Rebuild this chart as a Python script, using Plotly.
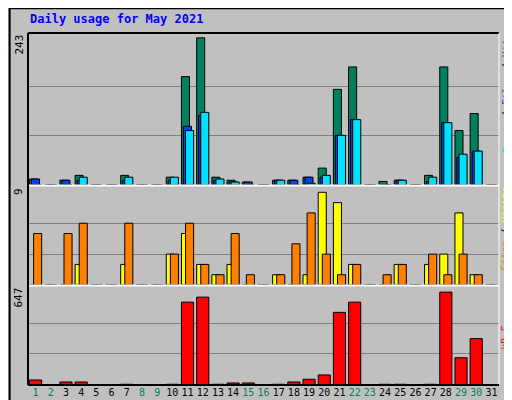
import plotly.graph_objects as go

days = list(range(1, 32))
hits = [10, 0, 8, 16, 0, 0, 16, 0, 0, 13, 179, 243, 13, 8, 5, 0, 8, 8, 13, 28, 158, 195, 0, 6, 8, 0, 16, 195, 90, 118, 0]
files = [10, 0, 8, 8, 0, 0, 8, 0, 0, 8, 97, 115, 8, 5, 5, 0, 8, 8, 13, 13, 82, 108, 0, 0, 8, 0, 6, 103, 46, 56, 0]
pages = [0, 0, 0, 13, 0, 0, 13, 0, 0, 13, 90, 120, 10, 5, 0, 0, 8, 0, 3, 16, 82, 108, 0, 0, 8, 0, 13, 103, 51, 56, 0]
visits = [0, 0, 0, 2, 0, 0, 2, 0, 0, 3, 5, 2, 1, 2, 0, 0, 1, 0, 1, 9, 8, 2, 0, 0, 2, 0, 2, 3, 7, 1, 0]
sites = [5, 0, 5, 6, 0, 0, 6, 0, 0, 3, 6, 2, 1, 5, 1, 0, 1, 4, 7, 3, 1, 2, 0, 1, 2, 0, 3, 1, 3, 1, 0]
kbytes = [35, 0, 21, 21, 0, 0, 5, 0, 0, 5, 577, 612, 5, 14, 14, 0, 5, 21, 40, 70, 506, 577, 0, 5, 5, 0, 5, 647, 190, 323, 0]
weekend = [1, 2, 8, 9, 15, 16, 22, 23, 29, 30]

FONT = "DejaVu Sans Mono"
line = dict(color="black", width=1)

fig = go.Figure()
def bars(vals, color, offset, width, yaxis):
    fig.add_trace(go.Bar(x=days, y=vals, marker=dict(color=color, line=line),
                         offset=offset, width=width, yaxis=yaxis, xaxis="x",
                         showlegend=False, hoverinfo="y"))

bars(hits, "#00805C", -0.4, 0.53, "y3")
bars(files, "#0040FF", -0.27, 0.53, "y3")
bars(pages, "#00E0FF", -0.13, 0.53, "y3")
bars(visits, "#FFFF00", -0.4, 0.53, "y2")
bars(sites, "#FF8000", -0.13, 0.53, "y2")
bars(kbytes, "#FF0000", -0.4, 0.8, "y")

ticktext = [f"<span style='color:{'#00805C' if d in weekend else 'black'}'>{d}</span>" for d in days]
grid = dict(showgrid=True, gridcolor="#808080", gridwidth=1, showticklabels=False,
            zeroline=False, ticks="", fixedrange=True)

fig.update_layout(
    width=512, height=400, margin=dict(l=20, r=21, t=25, b=23, autoexpand=False),
    paper_bgcolor="#C0C0C0", plot_bgcolor="#C0C0C0", barmode="overlay",
    font=dict(family=FONT, size=11, color="black"),
    xaxis=dict(range=[0.5, 31.5], tickvals=days, ticktext=ticktext, ticks="", tickangle=0,
               automargin=False, showgrid=False, zeroline=False,
               tickfont=dict(size=10, family=FONT)),
    yaxis=dict(domain=[0, 0.281], range=[0, 689], tickvals=[216, 431], **grid),
    yaxis2=dict(domain=[0.284, 0.565], range=[0, 9.6], tickvals=[3, 6], **grid),
    yaxis3=dict(domain=[0.568, 1], range=[0, 251], tickvals=[81, 162], **grid),
)

# frame and panel separators
fig.add_shape(type="rect", xref="paper", yref="paper", x0=-0.039, x1=1.04, y0=-0.065, y1=1.07,
              line=dict(color="black", width=2))
for y in [0.2825, 0.5665]:
    fig.add_shape(type="line", xref="paper", yref="paper", x0=0, x1=1, y0=y, y1=y,
                  line=dict(color="white", width=2))
fig.add_shape(type="line", xref="paper", yref="paper", x0=0, x1=0, y0=0, y1=1, line=dict(color="black", width=2))
fig.add_shape(type="line", xref="paper", yref="paper", x0=0, x1=1, y0=1, y1=1, line=dict(color="black", width=2))
fig.add_shape(type="line", xref="paper", yref="paper", x0=1, x1=1, y0=0, y1=1, line=dict(color="white", width=1))
fig.add_shape(type="line", xref="paper", yref="paper", x0=0, x1=1, y0=0, y1=0, line=dict(color="black", width=2))

fig.add_annotation(text="<b>Daily usage for May 2021</b>", xref="paper", yref="paper", x=0, y=1.015,
                   xanchor="left", yanchor="bottom", showarrow=False, font=dict(color="#0000FF", size=12))
for txt, y in [("243", 1), ("9", 0.565), ("647", 0.281)]:
    fig.add_annotation(text=txt, xref="paper", yref="paper", x=0, y=y, xanchor="right", yanchor="top",
                       textangle=-90, showarrow=False, font=dict(size=11), xshift=-1)
side = [
    ("<span style='color:#00E0FF'>Pages</span> / <span style='color:#0040FF'>Files</span> / <span style='color:#00805C'>Hits</span>", 1),
    ("<span style='color:#FF8000'>Sites</span> / <span style='color:#FFFF00'>Visits</span>", 0.565),
    ("<span style='color:#FF0000'>kB F</span>", 0.17),
]
for txt, y in side:
    fig.add_annotation(text=txt, xref="paper", yref="paper", x=1, y=y, xanchor="left", yanchor="top",
                       textangle=-90, showarrow=False, font=dict(size=10), xshift=0,
                       borderpad=0)

fig.write_html("out.html")
